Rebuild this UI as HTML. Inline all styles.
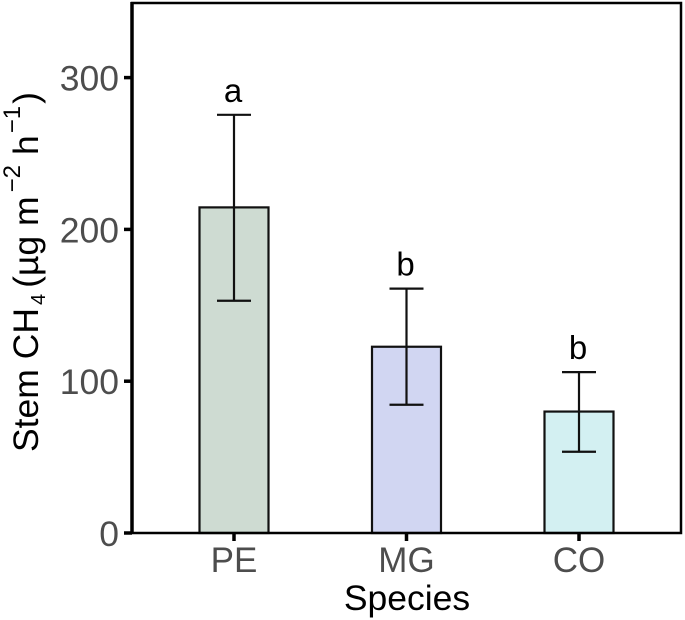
<!DOCTYPE html>
<html>
<head>
<meta charset="utf-8">
<style>
html,body{margin:0;padding:0;background:#fff;width:685px;height:620px;overflow:hidden}
svg{display:block;font-family:"Liberation Sans",sans-serif}
</style>
</head>
<body>
<svg id="chart" width="685" height="620" viewBox="0 0 685 620" xmlns="http://www.w3.org/2000/svg">
<text transform="translate(38,452) rotate(-90)" text-anchor="start" font-size="35.5" fill="#000">Stem CH<tspan font-size="20" dy="7" dx="3">4</tspan><tspan dy="-7" dx="6">(µg m</tspan><tspan font-size="24" dy="-18" dx="4">−2</tspan><tspan dy="18" dx="10">h</tspan><tspan font-size="24" dy="-18" dx="2">−1</tspan><tspan dy="18" dx="2">)</tspan></text>
<text x="407" y="610" text-anchor="middle" font-size="35.5" fill="#000">Species</text>
</svg>
<script>
const categories = ['PE', 'MG', 'CO'];
const means = [214.5, 122.7, 80];
const upperErrors = [275.5, 161, 106];
const lowerErrors = [153, 84.5, 53.5];
const letters = ['a', 'b', 'b'];
const fills = ['#cedbd2', '#d1d6f2', '#d3f0f2'];
const yTicks = [0, 100, 200, 300];

const svg = document.getElementById('chart');
const NS = 'http://www.w3.org/2000/svg';
const panel = {left: 132, right: 681, top: 3, bottom: 533};
const yScale = v => panel.bottom - v * 1.518;
const xScale = i => 234 + i * 172.5;
const barWidth = 69;
const capHalf = 17;

function make(tag, attrs, parent) {
  const el = document.createElementNS(NS, tag);
  for (const k in attrs) el.setAttribute(k, attrs[k]);
  (parent || svg).appendChild(el);
  return el;
}

categories.forEach((cat, i) => {
  const x = xScale(i);
  const bar = make('rect', {x: x - barWidth / 2, y: yScale(means[i]), width: barWidth, height: panel.bottom - yScale(means[i]), fill: fills[i], stroke: '#111', 'stroke-width': 2.2});
  
  

  const g = make('g', {stroke: '#111', 'stroke-width': 2.2});
  
  
  make('line', {x1: x, x2: x, y1: yScale(upperErrors[i]), y2: yScale(lowerErrors[i])}, g);
  make('line', {x1: x - capHalf, x2: x + capHalf, y1: yScale(upperErrors[i]), y2: yScale(upperErrors[i])}, g);
  make('line', {x1: x - capHalf, x2: x + capHalf, y1: yScale(lowerErrors[i]), y2: yScale(lowerErrors[i])}, g);

  const letter = make('text', {x: x - 1, y: yScale(upperErrors[i]) - 13, 'text-anchor': 'middle', 'font-size': 33, fill: '#000'});
  
  
  letter.textContent = letters[i];

  const tick = make('line', {x1: x, x2: x, y1: panel.bottom, y2: panel.bottom + 8, stroke: '#000', 'stroke-width': 3.5});
  
  

  const label = make('text', {x: x, y: 572, 'text-anchor': 'middle', 'font-size': 35, fill: '#4d4d4d'});
  
  
  label.textContent = cat;
});

yTicks.forEach(v => {
  const y = yScale(v);
  const tick = make('line', {x1: panel.left - 8, x2: panel.left, y1: y, y2: y, stroke: '#000', 'stroke-width': 3.5});
  
  

  const label = make('text', {x: 119, y: y + 13, 'text-anchor': 'end', 'font-size': 35.5, fill: '#4d4d4d'});
  
  
  label.textContent = v;
});

const border = make('path', {d: `M${panel.left} ${panel.top}H${panel.right}V${panel.bottom}H${panel.left}Z`, fill: 'none', stroke: '#000', 'stroke-width': 2.5});


const leftAxis = make('line', {x1: panel.left, x2: panel.left, y1: panel.top - 1, y2: panel.bottom + 1, stroke: '#000', 'stroke-width': 3.5});


</script>
</body>
</html>
